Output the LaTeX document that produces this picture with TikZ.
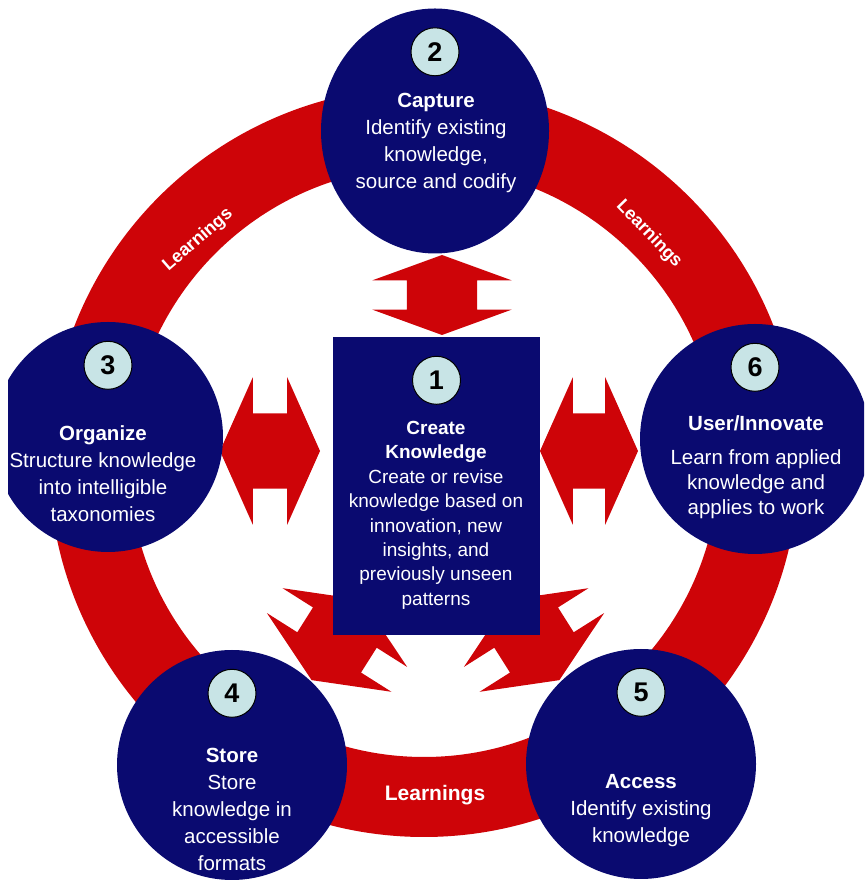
\documentclass[tikz,border=0pt]{standalone}
\usepackage{fontspec}
\setmainfont{Liberation Sans}
\usetikzlibrary{shapes.arrows,shapes.geometric,positioning}

\definecolor{kmnavy}{RGB}{10,10,112}
\definecolor{kmred}{RGB}{206,4,8}
\definecolor{kmbadge}{RGB}{200,228,230}

\begin{document}
\begin{tikzpicture}[x=1pt, y=1pt,
  stage/.style={circle, fill=kmnavy, minimum size=230pt, inner sep=0pt},
  badge/.style={circle, fill=kmbadge, draw=black, line width=1pt, minimum size=48pt,
    inner sep=0pt, font=\fontsize{27}{27}\selectfont\bfseries},
  blurb/.style={text=white, align=center, inner sep=0pt, anchor=north,
    font=\fontsize{20.5}{27}\selectfont},
  link/.style={double arrow, fill=kmred, inner xsep=0pt, inner ysep=37.5pt,
    double arrow head extend=36pt, double arrow tip angle=132, minimum height=100pt},
  tag/.style={text=white, font=\fontsize{18}{18}\selectfont\bfseries}]
  \useasboundingbox (0,0) rectangle (864,893);
  \clip (8,0) rectangle (864,893);

  % red learnings ring, behind everything else
  \coordinate (hub) at (424,431);
  \draw[kmred, line width=80pt] (hub) circle (335pt);

  % block arrows between the centre and the stages
  \node[link, rotate=90, minimum height=80pt, inner ysep=35pt,
    double arrow head extend=34.5pt, double arrow tip angle=140] (toCapture) at (442,598) {};
  \node[link] (toOrganize) at (270,442) {};
  \node[link, minimum height=98pt] (toInnovate) at (589,442) {};
  \node[link, rotate=57.7, minimum height=95pt] (toStore) at (337,253) {};
  \node[link, rotate=122.3, minimum height=95pt] (toAccess) at (534,253) {};

  % the five stages and the centre block
  \node[stage, ellipse, minimum width=228pt, minimum height=245pt] (capture) at (435,762) {};
  \node[stage] (organize) at (108,456) {};
  \node[stage] (innovate) at (755,454) {};
  \node[stage] (store) at (232,128) {};
  \node[stage] (access) at (641,129) {};
  \node[fill=kmnavy, minimum width=207pt, minimum height=298pt, inner sep=0pt] (create) at (436.5,407) {};

  % numbered badges
  \node[badge, below=19pt of create.north] (n1) {1};
  \node[badge, below=19pt of capture.north] (n2) {2};
  \node[badge, below=19pt of organize.north] (n3) {3};
  \node[badge, below=19pt of store.north] (n4) {4};
  \node[badge, below=19pt of access.north] (n5) {5};
  \node[badge, below=19pt of innovate.north] (n6) {6};

  % stage texts
  \node[blurb, font=\fontsize{19}{24.4}\selectfont] (t1) at (436,472)
    {\textbf{Create}\\\textbf{Knowledge}\\Create or revise\\knowledge based on\\innovation, new\\insights, and\\previously unseen\\patterns};
  \node[blurb] (t2) at (436,800.5)
    {\textbf{Capture}\\Identify existing\\knowledge,\\source and codify};
  \node[blurb] (t3) at (103,467.5)
    {\textbf{Organize}\\Structure knowledge\\into intelligible\\taxonomies};
  \node[blurb] (t4) at (232,145.5)
    {\textbf{Store}\\Store\\knowledge in\\accessible\\formats};
  \node[blurb] (t5) at (641,118.5)
    {\textbf{Access}\\Identify existing\\knowledge};
  \node[blurb, font=\fontsize{20.5}{25}\selectfont] (t6) at (756,477.5)
    {\textbf{User/Innovate}\\[9pt]Learn from applied\\knowledge and\\applies to work};

  % labels along the ring
  \node[tag, rotate=41] (learnLeft) at (198,653) {Learnings};
  \node[tag, rotate=-46] (learnRight) at (649,659) {Learnings};
  \node[tag, font=\fontsize{21}{21}\selectfont\bfseries] (learnBottom) at (435,98) {Learnings};
\end{tikzpicture}
\end{document}
